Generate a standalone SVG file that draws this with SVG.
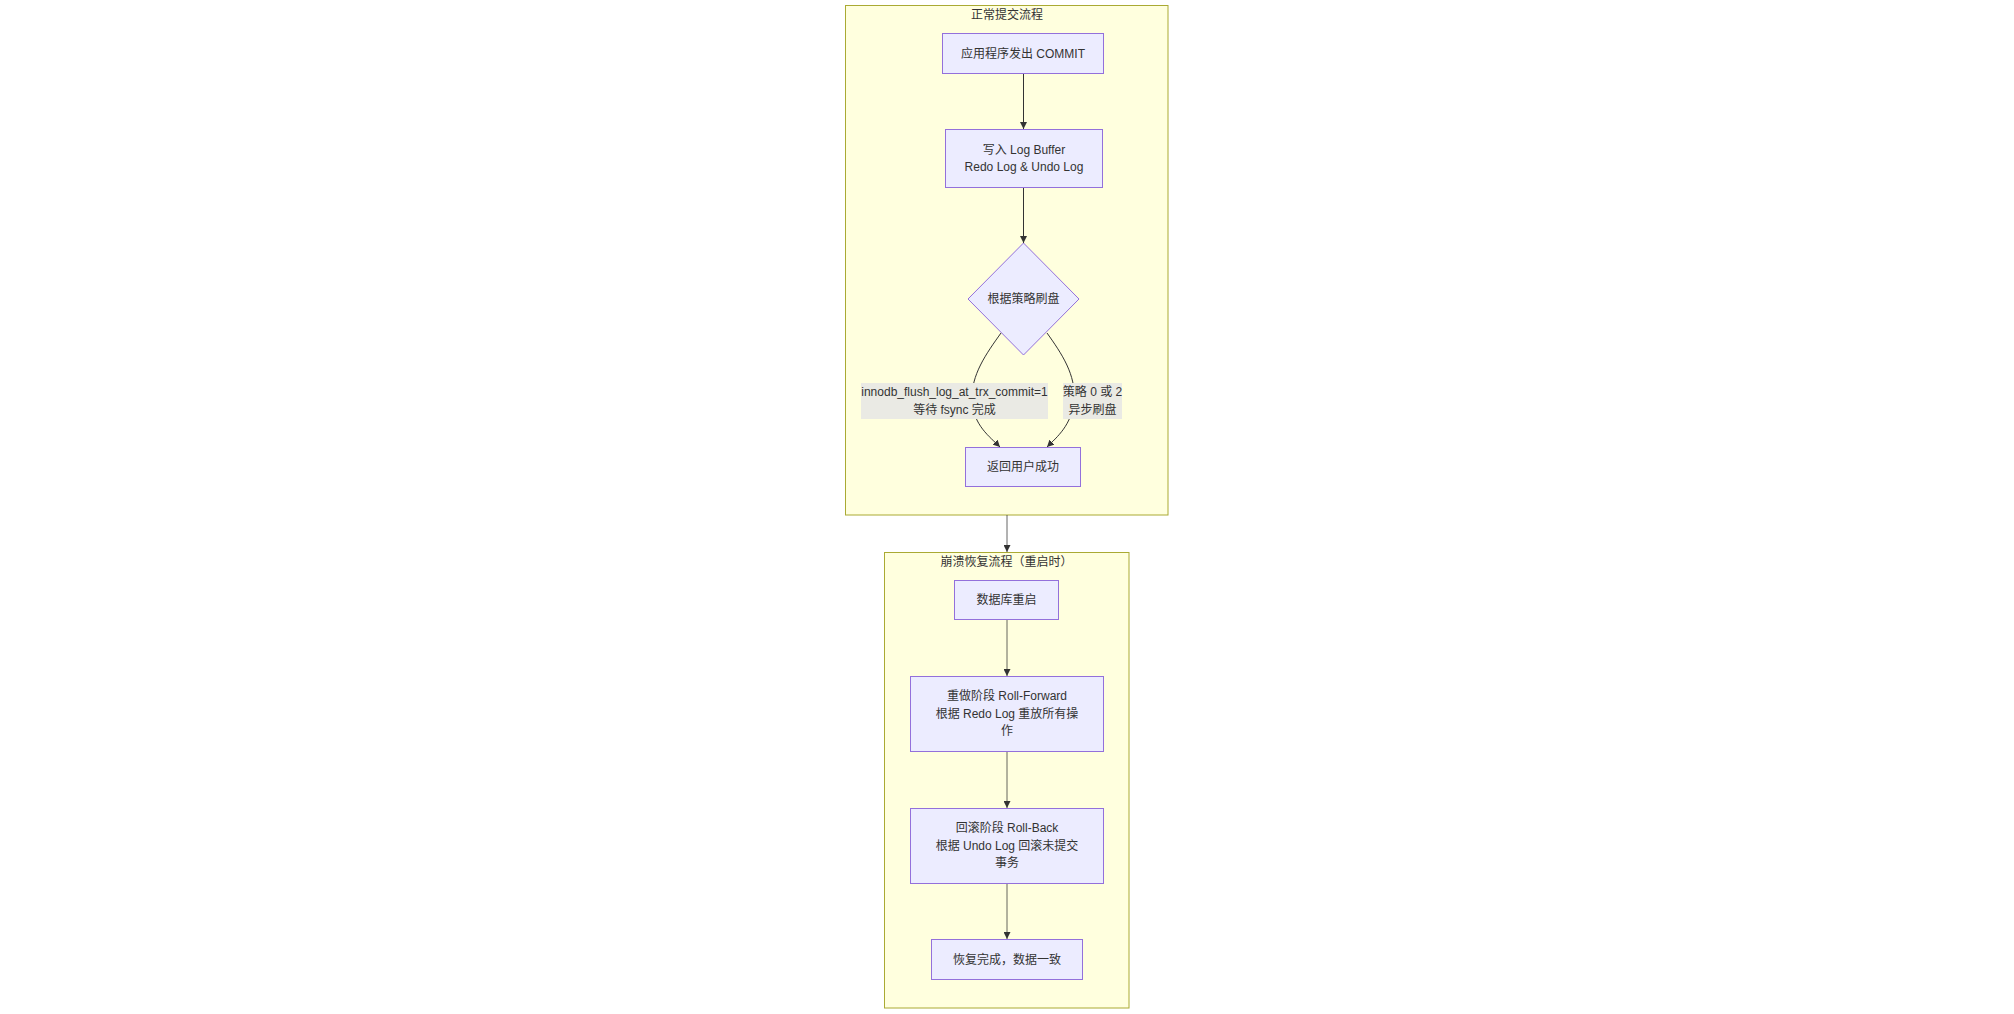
<svg xmlns="http://www.w3.org/2000/svg" width="2014" height="1014" viewBox="0 0 2014 1014">
<defs>
<style>
text{font-family:"Liberation Sans","Noto Sans CJK SC",sans-serif;font-size:12px;fill:#333333;text-anchor:middle;dominant-baseline:central}
.cl{fill:#ffffde;stroke:#aaaa33;stroke-width:1}
.nd{fill:#ECECFF;stroke:#9370DB;stroke-width:1}
.ed{fill:none;stroke:#333333;stroke-width:1}
.ed2{fill:none;stroke:#333333;stroke-width:1;stroke-opacity:0.75}
.lb{fill:#eaeae4}
</style>
<marker id="ah" viewBox="0 0 10 10" refX="10" refY="5" markerWidth="7" markerHeight="7" markerUnits="userSpaceOnUse" orient="auto">
<path d="M0,0 L10,5 L0,10 z" fill="#333333"/>
</marker>
</defs>
<rect width="2014" height="1014" fill="#ffffff"/>
<g id="cluster-normal">
<rect class="cl" x="845.5" y="5.5" width="322.5" height="509.5"/>
<text x="1007" y="15">正常提交流程</text>
</g>
<g id="cluster-recovery">
<rect class="cl" x="884.5" y="552.5" width="244.5" height="455.5"/>
<text x="1006.5" y="562">崩溃恢复流程（重启时）</text>
</g>
<g id="connectors">
<path class="ed" d="M1023.5,74 L1023.5,129" marker-end="url(#ah)"/>
<path class="ed" d="M1023.5,188 L1023.5,243" marker-end="url(#ah)"/>
<path class="ed" d="M1001,333 C986,354 971,375 972,400 C973,425 990,437 1000,447" marker-end="url(#ah)"/>
<path class="ed" d="M1047,333 C1062,354 1076,375 1074,400 C1072,425 1057,437 1047,447" marker-end="url(#ah)"/>
<path class="ed2" d="M1007,515 L1007,552" marker-end="url(#ah)"/>
<path class="ed2" d="M1007,620 L1007,676" marker-end="url(#ah)"/>
<path class="ed2" d="M1007,752 L1007,808" marker-end="url(#ah)"/>
<path class="ed2" d="M1007,884 L1007,939" marker-end="url(#ah)"/>
<g id="label-left">
<rect class="lb" x="861" y="383" width="187" height="36"/>
<text x="954.5" y="392">innodb_flush_log_at_trx_commit=1</text>
<text x="954.5" y="410">等待 fsync 完成</text>
</g>
<g id="label-right">
<rect class="lb" x="1063" y="383" width="59" height="36"/>
<text x="1092.5" y="392">策略 0 或 2</text>
<text x="1092.5" y="410">异步刷盘</text>
</g>
</g>
<g id="node-commit">
<rect class="nd" x="942.5" y="33.5" width="161" height="40"/>
<text x="1023" y="53.5">应用程序发出 COMMIT</text>
</g>
<g id="node-logbuffer">
<rect class="nd" x="945.5" y="129.5" width="157" height="58"/>
<text x="1024" y="150">写入 Log Buffer</text>
<text x="1024" y="167">Redo Log &amp; Undo Log</text>
</g>
<g id="node-flush">
<polygon class="nd" points="1023.5,243 1079,299 1023.5,355 968,299"/>
<text x="1023.5" y="299">根据策略刷盘</text>
</g>
<g id="node-return">
<rect class="nd" x="965.5" y="447.5" width="115" height="39"/>
<text x="1023" y="467">返回用户成功</text>
</g>
<g id="node-restart">
<rect class="nd" x="954.5" y="580.5" width="104" height="39"/>
<text x="1006.5" y="600">数据库重启</text>
</g>
<g id="node-redo">
<rect class="nd" x="910.5" y="676.5" width="193" height="75"/>
<text x="1007" y="696">重做阶段 Roll-Forward</text>
<text x="1007" y="714">根据 Redo Log 重放所有操</text>
<text x="1007" y="731">作</text>
</g>
<g id="node-undo">
<rect class="nd" x="910.5" y="808.5" width="193" height="75"/>
<text x="1007" y="828">回滚阶段 Roll-Back</text>
<text x="1007" y="846">根据 Undo Log 回滚未提交</text>
<text x="1007" y="863">事务</text>
</g>
<g id="node-done">
<rect class="nd" x="931.5" y="939.5" width="151" height="40"/>
<text x="1007" y="959.5">恢复完成，数据一致</text>
</g>
</svg>
